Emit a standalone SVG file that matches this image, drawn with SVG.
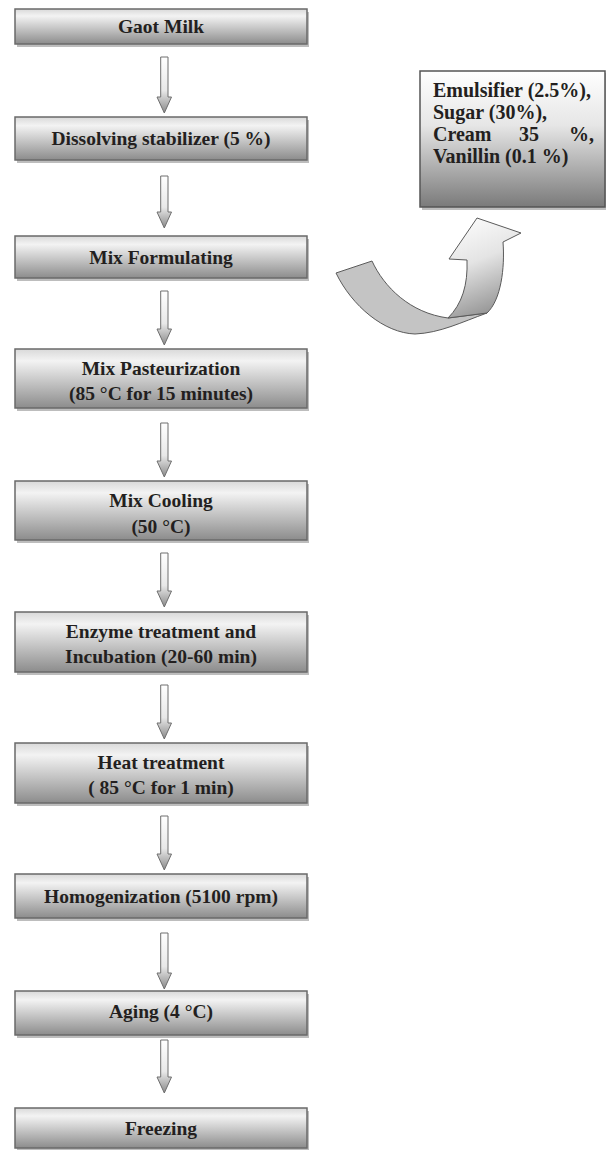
<svg xmlns="http://www.w3.org/2000/svg" width="606" height="1150" viewBox="0 0 606 1150">
<style>
.box{fill:url(#boxGrad);stroke:#6a6a6a;stroke-width:1.5}
.shadow{fill:#bdbdbd}
.t{font-family:"Liberation Serif","Times New Roman",serif;font-weight:bold;font-size:19.5px;fill:#231f20;text-anchor:middle}
.ts{font-family:"Liberation Serif","Times New Roman",serif;font-weight:bold;font-size:20px;fill:#231f20}
.arr{fill:url(#arrGrad);stroke:#6e6e6e;stroke-width:1}
</style>
<defs>
<linearGradient id="boxGrad" x1="0" y1="0" x2="0" y2="1">
<stop offset="0" stop-color="#d9d9d9"/>
<stop offset="0.2" stop-color="#f3f3f3"/>
<stop offset="1" stop-color="#8c8c8c"/>
</linearGradient>
<linearGradient id="sideGrad" x1="0" y1="0" x2="0" y2="1">
<stop offset="0" stop-color="#ffffff"/>
<stop offset="0.4" stop-color="#e6e6e6"/>
<stop offset="1" stop-color="#7a7a7a"/>
</linearGradient>
<linearGradient id="arrGrad" x1="0" y1="0" x2="0" y2="1">
<stop offset="0" stop-color="#ffffff"/>
<stop offset="0.6" stop-color="#e8e8e8"/>
<stop offset="1" stop-color="#8a8a8a"/>
</linearGradient>
<linearGradient id="curveGrad" x1="0" y1="0" x2="0.3" y2="1">
<stop offset="0" stop-color="#ffffff"/>
<stop offset="0.5" stop-color="#e4e4e4"/>
<stop offset="1" stop-color="#9a9a9a"/>
</linearGradient>
</defs>

<g id="connectors">
<path class="arr" d="M160.7,57 H168 V97 H171.5 L164.3,113 L157,97 H160.7 Z"/>
<path class="arr" d="M160.7,176 H168 V212 H171.5 L164.3,228 L157,212 H160.7 Z"/>
<path class="arr" d="M160.7,291 H168 V329 H171.5 L164.3,345 L157,329 H160.7 Z"/>
<path class="arr" d="M160.7,423 H168 V461 H171.5 L164.3,477 L157,461 H160.7 Z"/>
<path class="arr" d="M160.7,553 H168 V591 H171.5 L164.3,607 L157,591 H160.7 Z"/>
<path class="arr" d="M160.7,685 H168 V723 H171.5 L164.3,739 L157,723 H160.7 Z"/>
<path class="arr" d="M160.7,816 H168 V854 H171.5 L164.3,870 L157,854 H160.7 Z"/>
<path class="arr" d="M160.7,933 H168 V973 H171.5 L164.3,989 L157,973 H160.7 Z"/>
<path class="arr" d="M160.7,1040 H168 V1077 H171.5 L164.3,1093 L157,1077 H160.7 Z"/>
<g id="curved-arrow">
<path d="M336,273 L372,261 C384,287 410,313 448,318 L487,313 C462,322 440,333 415,334 C384,333 352,306 336,273 Z" fill="#c4c4c4" stroke="#5a5a5a" stroke-width="1"/>
<path d="M448,318 C462,304 468,285 467,260 L449,259 L477,218 L521,233 L503,242 C505,268 501,300 487,313 Z" fill="url(#curveGrad)" stroke="#5a5a5a" stroke-width="1"/>
</g>
</g>

<g id="n1"><rect class="shadow" x="17" y="12" width="292" height="35"/><rect class="box" x="15" y="9" width="292" height="35"/><text class="t" x="161" y="33">Gaot Milk</text></g>
<g id="n2"><rect class="shadow" x="17" y="120" width="292" height="43"/><rect class="box" x="15" y="117" width="292" height="43"/><text class="t" x="161" y="145">Dissolving stabilizer (5 %)</text></g>
<g id="n3"><rect class="shadow" x="17" y="239" width="292" height="42"/><rect class="box" x="15" y="236" width="292" height="42"/><text class="t" x="161" y="264">Mix Formulating</text></g>
<g id="n4"><rect class="shadow" x="17" y="352" width="292" height="59"/><rect class="box" x="15" y="349" width="292" height="59"/><text class="t" x="161" y="375">Mix Pasteurization</text><text class="t" x="161" y="400">(85 °C for 15 minutes)</text></g>
<g id="n5"><rect class="shadow" x="17" y="484" width="292" height="59"/><rect class="box" x="15" y="481" width="292" height="59"/><text class="t" x="161" y="507">Mix Cooling</text><text class="t" x="161" y="533">(50 °C)</text></g>
<g id="n6"><rect class="shadow" x="17" y="615" width="292" height="60"/><rect class="box" x="15" y="612" width="292" height="60"/><text class="t" x="161" y="638">Enzyme treatment and</text><text class="t" x="161" y="663">Incubation (20-60 min)</text></g>
<g id="n7"><rect class="shadow" x="17" y="746" width="292" height="60"/><rect class="box" x="15" y="743" width="292" height="60"/><text class="t" x="161" y="769">Heat treatment</text><text class="t" x="161" y="794">( 85 °C for 1 min)</text></g>
<g id="n8"><rect class="shadow" x="17" y="877" width="292" height="44"/><rect class="box" x="15" y="874" width="292" height="44"/><text class="t" x="161" y="903">Homogenization (5100 rpm)</text></g>
<g id="n9"><rect class="shadow" x="17" y="994" width="292" height="44"/><rect class="box" x="15" y="991" width="292" height="44"/><text class="t" x="161" y="1018">Aging (4 °C)</text></g>
<g id="n10"><rect class="shadow" x="17" y="1111" width="292" height="40"/><rect class="box" x="15" y="1108" width="292" height="40"/><text class="t" x="161" y="1135">Freezing</text></g>

<g id="ingredients">
<rect class="shadow" x="422" y="73" width="186" height="137"/>
<rect x="420" y="71" width="185" height="136" fill="url(#sideGrad)" stroke="#555" stroke-width="1.5"/>
<text class="ts" x="433" y="97">Emulsifier (2.5%),</text>
<text class="ts" x="433" y="119">Sugar (30%),</text>
<text class="ts" y="141"><tspan x="433">Cream</tspan><tspan x="519">35</tspan><tspan x="569">%,</tspan></text>
<text class="ts" x="433" y="163">Vanillin (0.1 %)</text>
</g>
</svg>
